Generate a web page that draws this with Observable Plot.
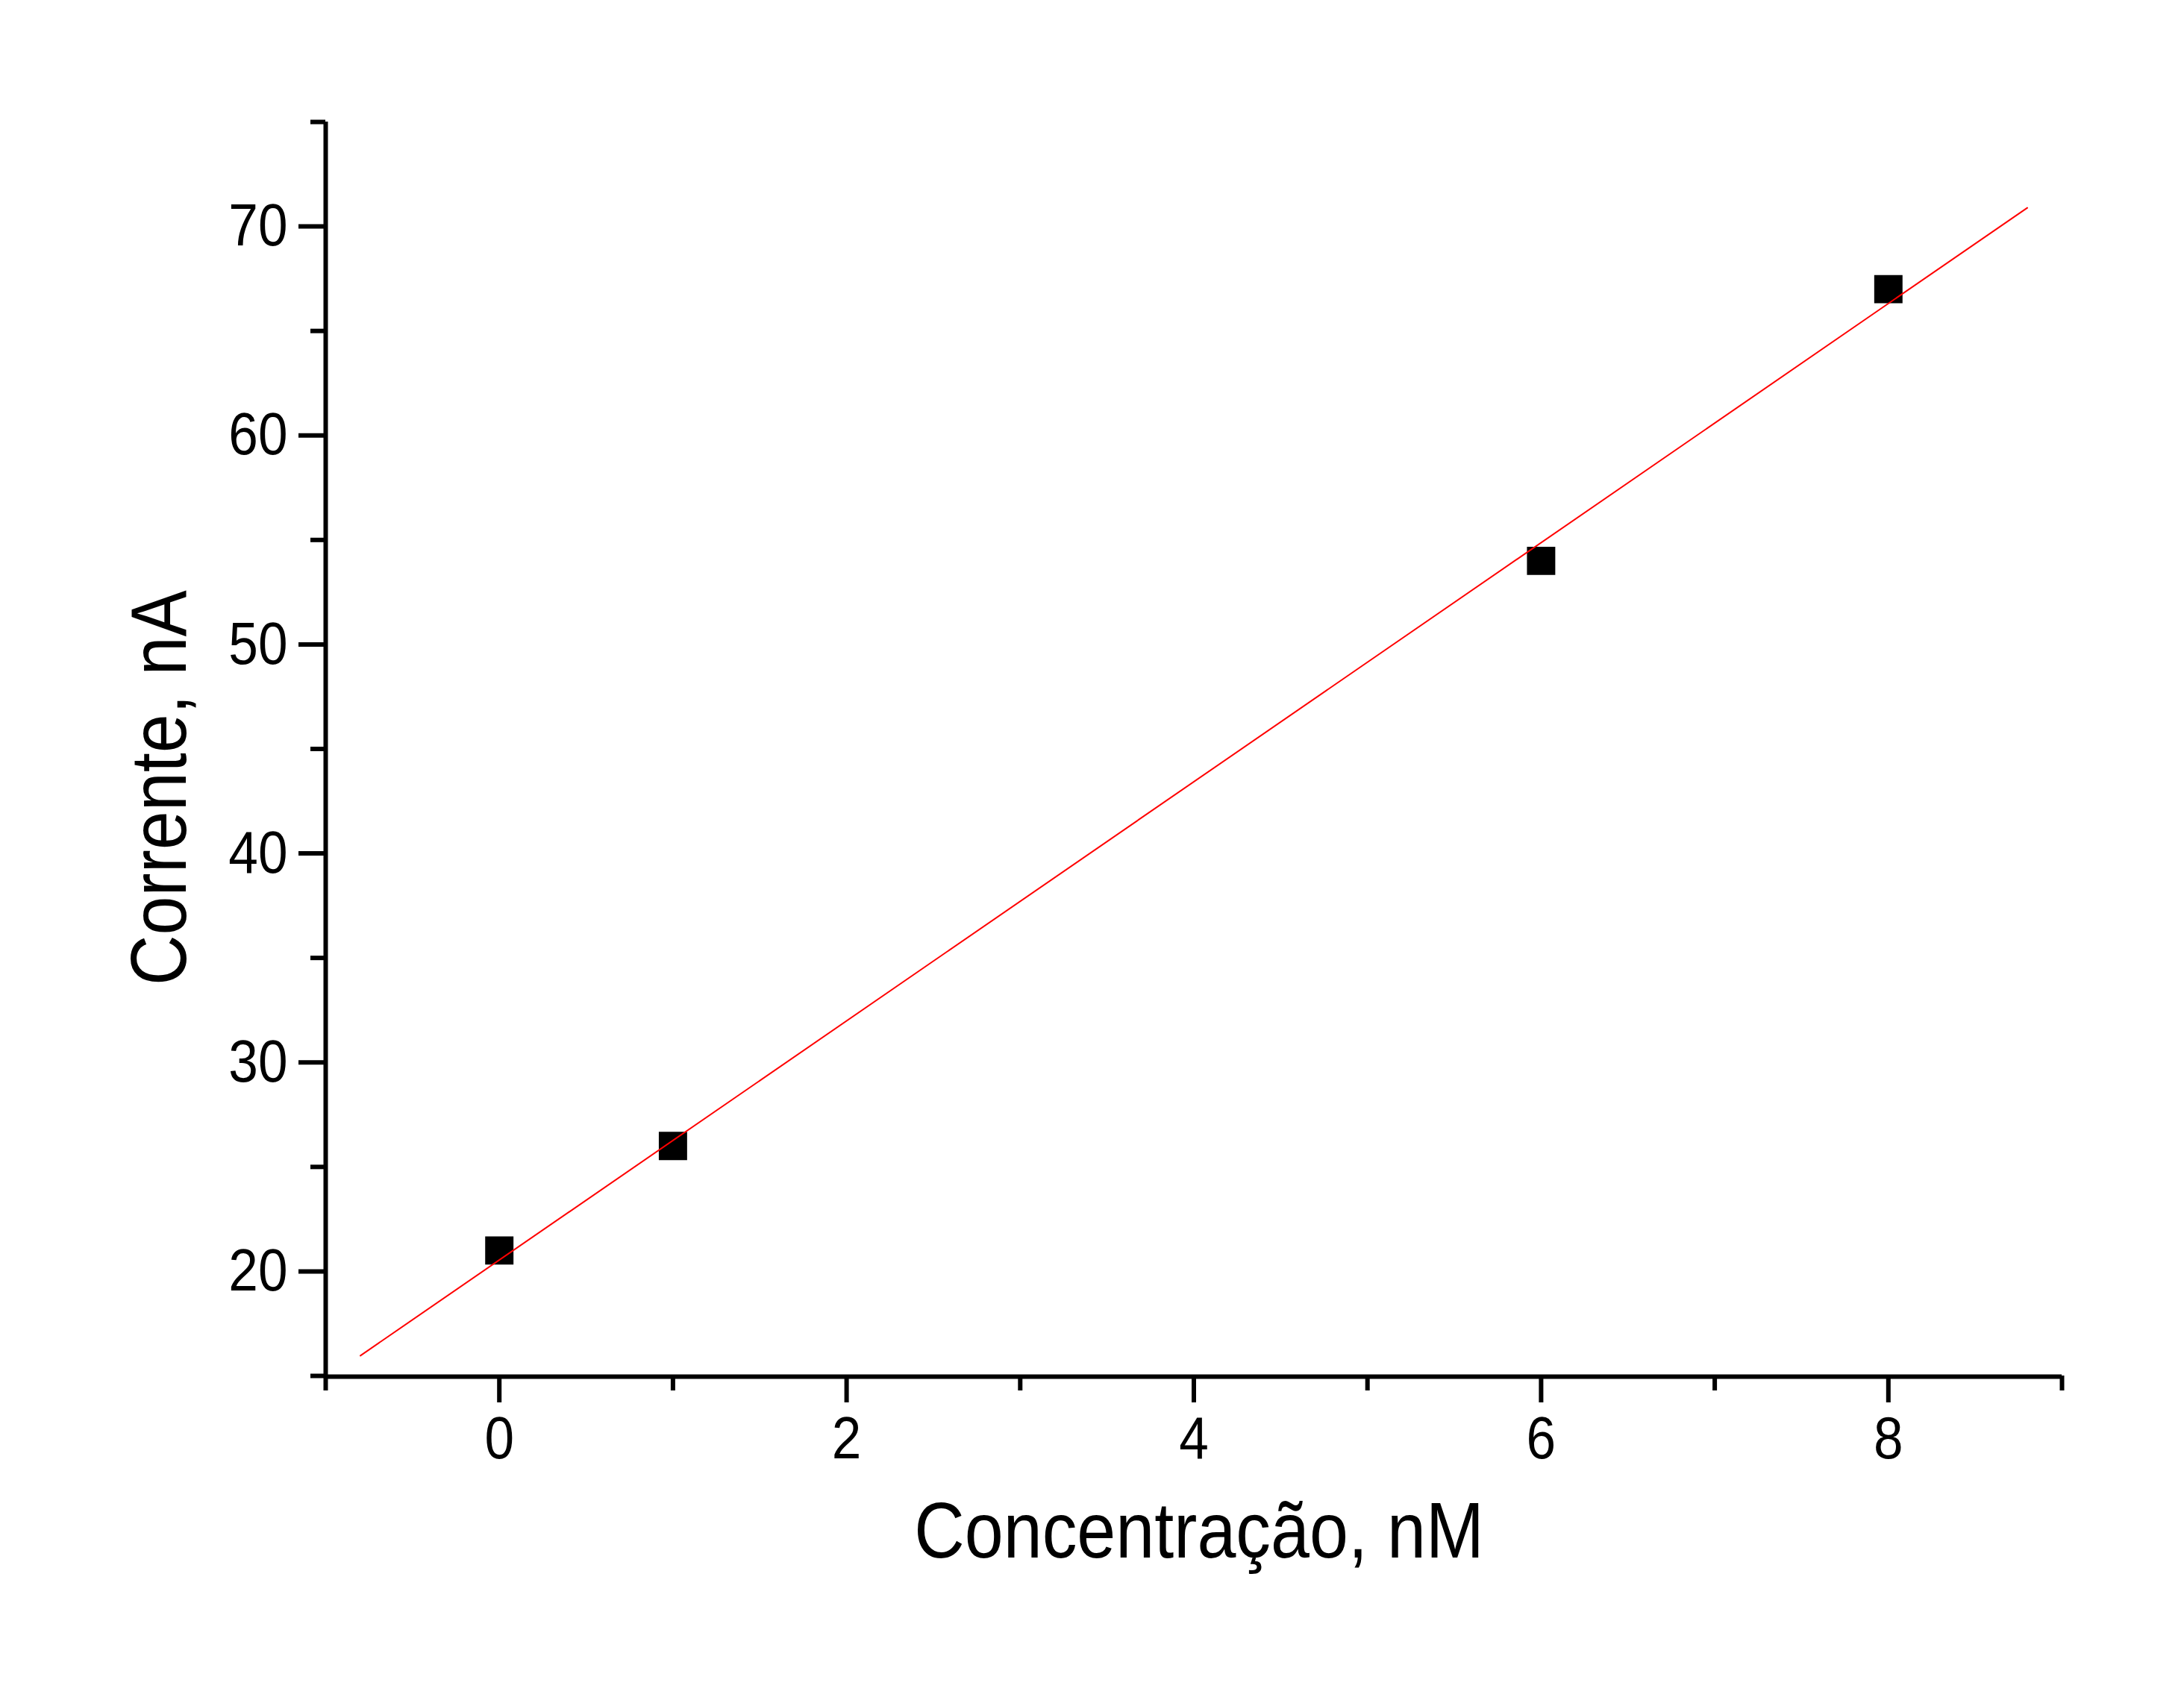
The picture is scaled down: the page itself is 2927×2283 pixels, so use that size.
<!DOCTYPE html>
<html>
<head>
<meta charset="utf-8">
<script src="https://cdn.jsdelivr.net/npm/d3@7"></script>
<script src="https://cdn.jsdelivr.net/npm/@observablehq/plot@0.6"></script>
<style>
  html, body { margin: 0; padding: 0; background: #ffffff; }
</style>
</head>
<body>
<script>
// Data
const concentration = [0, 1, 6, 8];
const current = [21, 26, 54, 67];
// Linear fit line endpoints (as drawn)
const fitX = [-0.8, 8.8];
const fitY = [15.97, 70.89];
// Ticks
const xMajorTicks = [0, 2, 4, 6, 8];
const xMinorTicks = [-1, 1, 3, 5, 7, 9];
const yMajorTicks = [20, 30, 40, 50, 60, 70];
const yMinorTicks = [15, 25, 35, 45, 55, 65, 75];
const xLabel = "Concentração, nM";
const yLabel = "Corrente, nA";

const points = concentration.map((c, i) => ({c, v: current[i]}));
const fit = fitX.map((x, i) => ({x, y: fitY[i]}));

const font = "'Liberation Sans', Arial, Helvetica, sans-serif";

const chart = Plot.plot({
  width: 2927,
  height: 2283,
  marginLeft: 436,
  marginRight: 164,
  marginTop: 163,
  marginBottom: 439,
  x: {domain: [-1, 9]},
  y: {domain: [15, 75]},
  style: {background: "#ffffff", color: "#000000", fontFamily: font, fontSize: "80px"},
  marks: [
    Plot.axisX(xMinorTicks, {tickSize: 20, strokeWidth: 6, tickFormat: () => "", label: null}),
    Plot.axisX(xMajorTicks, {tickSize: 36, strokeWidth: 6, tickPadding: 18, fontSize: 80, tickFormat: d => String(d), label: null}),
    Plot.axisY(yMinorTicks, {tickSize: 20, strokeWidth: 6, tickFormat: () => "", label: null}),
    Plot.axisY(yMajorTicks, {tickSize: 36, strokeWidth: 6, tickPadding: 15, fontSize: 80, tickFormat: d => String(d), label: null}),
    Plot.ruleX([-1], {stroke: "#000000", strokeWidth: 6}),
    Plot.ruleY([15], {stroke: "#000000", strokeWidth: 6, dy: 1}),
    Plot.dot(points, {x: "c", y: "v", symbol: "square", r: 21.4, fill: "#000000", stroke: null}),
    Plot.line(fit, {x: "x", y: "y", stroke: "#ff0000", strokeWidth: 2}),
    Plot.text([xLabel], {frameAnchor: "bottom", textAnchor: "middle", lineAnchor: "bottom", dx: 7, dy: 243, fontSize: 105, fill: "#000000"}),
    Plot.text([yLabel], {frameAnchor: "left", textAnchor: "middle", lineAnchor: "bottom", rotate: -90, dx: -188, dy: 52, fontSize: 105, fill: "#000000"})
  ]
});

document.body.append(chart);

// Condense glyphs horizontally like the reference typeface
chart.querySelectorAll("text").forEach(t => {
  const L = t.getComputedTextLength();
  if (L > 0) {
    t.setAttribute("textLength", (L * 0.89).toFixed(1));
    t.setAttribute("lengthAdjust", "spacingAndGlyphs");
  }
});
</script>
</body>
</html>
